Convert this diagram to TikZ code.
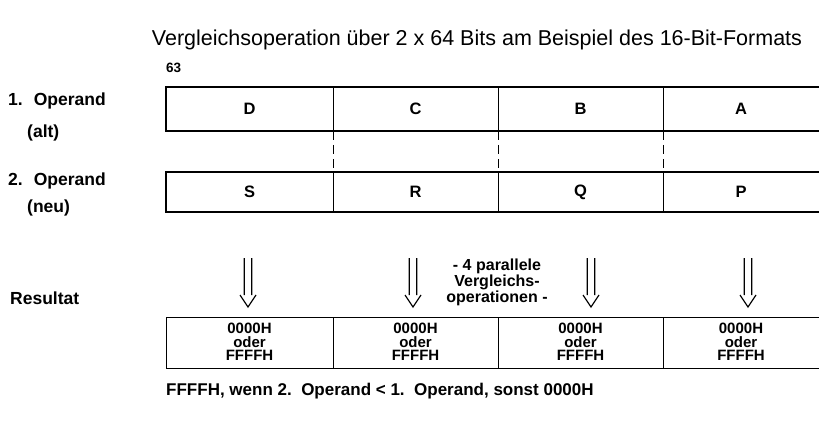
\documentclass[tikz,border=0pt]{standalone}
\usepackage{fontspec}
\setmainfont{Liberation Sans}
\begin{document}
\begin{tikzpicture}[x=1pt,y=-1pt,
  txt/.style={inner sep=0pt, font=\bfseries\fontsize{16.5}{20}\selectfont},
  lbl/.style={inner sep=0pt, anchor=west, font=\bfseries\fontsize{17.5}{20}\selectfont},
  ttl/.style={inner sep=0pt, font=\fontsize{21.5}{24}\selectfont},
  res/.style={inner sep=0pt, align=center, font=\bfseries\fontsize{15}{13.5}\selectfont},
  thickline/.style={line width=2pt},
  thinline/.style={line width=1pt},
  dashline/.style={line width=1pt, dash pattern=on 9pt off 5pt},
  arr/.style={line width=1.2pt}
]
\useasboundingbox (0,0) rectangle (819,425);

% title
\node[ttl] (title) at (477,40) {Vergleichsoperation über 2 x 64 Bits am Beispiel des 16-Bit-Formats};
\node[txt, font=\bfseries\fontsize{13.5}{15}\selectfont, anchor=west] (bit63) at (166,68) {63};

% left labels
\node[lbl] (op1) at (8,101) {1.\hspace{11pt}Operand};
\node[lbl] (alt) at (27,133) {(alt)};
\node[lbl] (op2) at (8,181) {2.\hspace{11pt}Operand};
\node[lbl] (neu) at (27,208) {(neu)};
\node[lbl] (resl) at (10,298) {Resultat};

% row 1
\draw[thickline] (819,87) -- (166,87) -- (166,131) -- (819,131);
\draw[thinline] (333,87) -- (333,131) (498,87) -- (498,131) (663,87) -- (663,131);
\node[txt] (d) at (249.5,109) {D};
\node[txt] (c) at (415.5,109) {C};
\node[txt] (b) at (580.5,109) {B};
\node[txt] (a) at (741,109) {A};

% row 2
\draw[thickline] (819,172) -- (166,172) -- (166,212) -- (819,212);
\draw[thinline] (333,172) -- (333,212) (498,172) -- (498,212) (663,172) -- (663,212);
\node[txt] (s) at (249.5,192) {S};
\node[txt] (r) at (415.5,192) {R};
\node[txt] (q) at (580.5,192) {Q};
\node[txt] (p) at (741,192) {P};

% dashed connectors
\coordinate (t1) at (333,131); \coordinate (b1) at (333,172);
\coordinate (t2) at (498,131); \coordinate (b2) at (498,172);
\coordinate (t3) at (663,131); \coordinate (b3) at (663,172);
\draw[dashline] (t1) -- (b1) (t2) -- (b2) (t3) -- (b3);

% arrows
\foreach \x/\n in {248/1,413/2,591/3,748/4}{
  \coordinate (a\n) at (\x,258);
  \draw[arr] ([xshift=-3.75pt]a\n) -- ++(0,37) ++(-4.25,0) -- ++(8,12) -- ++(8,-12) ++(-4.25,0) -- ++(0,-37);
}
\node[txt, align=center, font=\bfseries\fontsize{16}{16}\selectfont] (mid) at (497,282) {- 4 parallele\\Vergleichs-\\operationen -};

% result row
\draw[thinline] (819,317) -- (166,317) -- (166,368) -- (819,368);
\draw[thinline] (333,317) -- (333,368) (498,317) -- (498,368) (663,317) -- (663,368);
\node[res] (r1) at (249.5,342) {0000H\\oder\\FFFFH};
\node[res] (r2) at (415.5,342) {0000H\\oder\\FFFFH};
\node[res] (r3) at (580.5,342) {0000H\\oder\\FFFFH};
\node[res] (r4) at (741,342) {0000H\\oder\\FFFFH};

\node[txt, anchor=west, font=\bfseries\fontsize{17}{20}\selectfont] (foot) at (166,391) {FFFFH, wenn 2.\ \ Operand < 1.\ \ Operand, sonst 0000H};
\end{tikzpicture}
\end{document}
